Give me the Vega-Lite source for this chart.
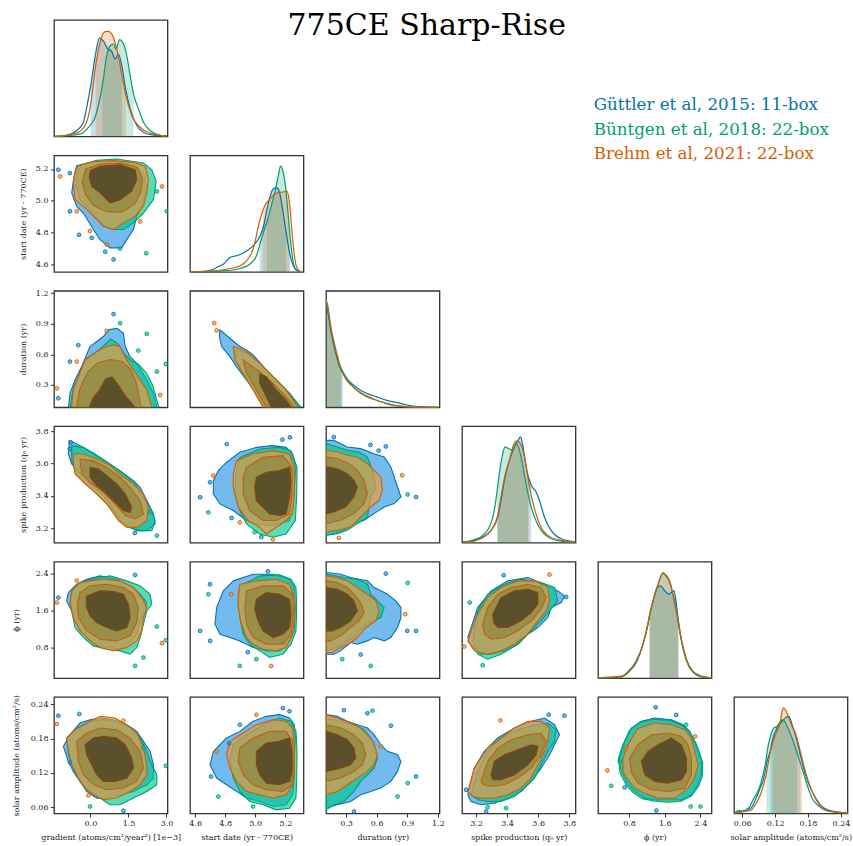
{
"$schema":"https://vega.github.io/schema/vega-lite/v6.json",
"padding":{"left":11,"top":11,"right":2,"bottom":2},
"background":"white",
"config":{
"view":{"stroke":"#333","strokeWidth":1.3},
"axis":{"labelFont":"DejaVu Serif","labelFontSize":8,"labelColor":"#222","titleFont":"DejaVu Serif","titleFontSize":8,"titleFontWeight":"normal","titleColor":"#222","tickColor":"#333","tickSize":3.5,"tickWidth":1,"domain":false,"grid":false,"labelPadding":2.5,"labelFlush":false,"labelOverlap":false}
},
"datasets":{
"leg":[{"s":"G"},{"s":"B"},{"s":"R"}],
"kde":[
{"v":0,"s":"G","x":[-1.41,-0.95,-0.55,-0.285,-0.087,0.006,0.178,0.35,0.509,0.668,0.84,0.972,1.104,1.237,1.369,1.568,1.832,2.097,2.494,3.02],"d":[0.003,0.011,0.049,0.12,0.32,0.43,0.68,0.845,0.82,0.756,0.728,0.665,0.708,0.607,0.43,0.235,0.092,0.034,0.011,0.003]},
{"v":0,"s":"B","x":[-1.41,-0.418,-0.087,0.178,0.469,0.641,0.773,0.906,1.012,1.144,1.276,1.435,1.568,1.7,1.899,2.097,2.362,2.759,3.02],"d":[0,0.02,0.077,0.163,0.436,0.693,0.779,0.794,0.75,0.831,0.808,0.693,0.521,0.364,0.235,0.12,0.049,0.011,0.003]},
{"v":0,"s":"R","x":[-1.41,-0.55,-0.22,-0.021,0.204,0.376,0.575,0.707,0.879,1.038,1.197,1.396,1.634,1.965,2.362,3.02],"d":[0,0.029,0.092,0.235,0.607,0.808,0.9,0.903,0.865,0.75,0.579,0.35,0.178,0.077,0.029,0.003]},
{"v":1,"s":"G","x":[4.57,4.677,4.721,4.754,4.787,4.831,4.886,4.941,4.985,5.029,5.055,5.077,5.099,5.121,5.143,5.161,5.183,5.205,5.227,5.253,5.281,5.304],"d":[0,0.006,0.023,0.046,0.066,0.123,0.143,0.18,0.223,0.303,0.394,0.537,0.651,0.717,0.723,0.68,0.523,0.337,0.166,0.051,0.009,0]},
{"v":1,"s":"B","x":[4.57,4.809,4.897,4.963,5.007,5.04,5.068,5.077,5.095,5.117,5.139,5.156,5.167,5.183,5.2,5.215,5.233,5.248,5.271,5.304],"d":[0,0.011,0.029,0.066,0.137,0.28,0.394,0.43,0.509,0.623,0.737,0.851,0.909,0.866,0.737,0.537,0.28,0.109,0.017,0]},
{"v":1,"s":"R","x":[4.57,4.765,4.831,4.897,4.941,4.985,5.029,5.048,5.062,5.095,5.128,5.156,5.187,5.209,5.227,5.244,5.26,5.275,5.304],"d":[0,0.014,0.029,0.051,0.094,0.194,0.437,0.52,0.566,0.623,0.666,0.683,0.686,0.694,0.594,0.337,0.137,0.037,0]},
{"v":2,"s":"G","x":[0.106,0.12,0.15,0.2,0.25,0.27,0.3,0.35,0.4,0.5,0.6,0.7,0.8,0.9,1.0,1.1,1.2],"d":[0.85,0.82,0.66,0.46,0.32,0.29,0.25,0.21,0.17,0.12,0.09,0.06,0.04,0.02,0.006,0.001,0]},
{"v":2,"s":"B","x":[0.106,0.12,0.15,0.2,0.25,0.255,0.3,0.35,0.4,0.5,0.6,0.7,0.8,0.9,1.0,1.2],"d":[0.9,0.86,0.68,0.48,0.34,0.33,0.26,0.2,0.15,0.09,0.06,0.03,0.012,0.004,0.001,0]},
{"v":2,"s":"R","x":[0.106,0.12,0.15,0.2,0.25,0.3,0.35,0.4,0.5,0.6,0.7,0.8,0.9,1.0,1.2],"d":[0.92,0.88,0.7,0.5,0.33,0.24,0.19,0.15,0.1,0.06,0.035,0.015,0.005,0.001,0]},
{"v":3,"s":"G","x":[3.115,3.189,3.243,3.297,3.34,3.361,3.387,3.415,3.447,3.469,3.486,3.501,3.522,3.555,3.587,3.608,3.64,3.683,3.748,3.84],"d":[0.006,0.02,0.049,0.106,0.221,0.364,0.564,0.708,0.822,0.874,0.908,0.837,0.65,0.493,0.436,0.364,0.221,0.106,0.034,0.006]},
{"v":3,"s":"B","x":[3.115,3.189,3.243,3.286,3.318,3.335,3.35,3.372,3.387,3.408,3.437,3.458,3.469,3.49,3.516,3.535,3.544,3.576,3.619,3.672,3.748,3.84],"d":[0.003,0.026,0.063,0.135,0.278,0.436,0.593,0.765,0.822,0.808,0.794,0.851,0.837,0.736,0.55,0.42,0.364,0.221,0.106,0.043,0.014,0.003]},
{"v":3,"s":"R","x":[3.115,3.189,3.243,3.297,3.34,3.368,3.387,3.415,3.447,3.464,3.49,3.516,3.54,3.544,3.576,3.608,3.662,3.748,3.84],"d":[0.003,0.014,0.043,0.106,0.235,0.45,0.579,0.708,0.857,0.874,0.837,0.708,0.51,0.479,0.292,0.163,0.063,0.02,0.003]},
{"v":4,"s":"G","x":[0.105,0.627,0.778,0.964,1.114,1.226,1.26,1.338,1.435,1.509,1.599,1.688,1.748,1.809,1.86,1.91,1.973,2.085,2.235,2.421,2.645],"d":[0,0.011,0.049,0.134,0.291,0.463,0.534,0.663,0.777,0.791,0.749,0.72,0.734,0.749,0.634,0.469,0.32,0.149,0.049,0.011,0.003]},
{"v":4,"s":"B","x":[0.105,0.627,0.778,0.964,1.114,1.226,1.265,1.338,1.45,1.562,1.599,1.711,1.786,1.86,1.9,1.973,2.085,2.235,2.421,2.645],"d":[0.003,0.017,0.057,0.149,0.291,0.477,0.549,0.663,0.806,0.906,0.891,0.82,0.72,0.591,0.506,0.334,0.163,0.057,0.017,0.003]},
{"v":4,"s":"R","x":[0.105,0.627,0.778,0.964,1.114,1.226,1.255,1.338,1.45,1.562,1.674,1.733,1.809,1.9,1.912,2.01,2.123,2.271,2.421,2.645],"d":[0.003,0.011,0.046,0.149,0.291,0.469,0.534,0.663,0.806,0.897,0.863,0.806,0.663,0.477,0.449,0.263,0.12,0.04,0.011,0.003]},
{"v":5,"s":"G","x":[0.0468,0.0601,0.0751,0.0842,0.0904,0.0995,0.1055,0.1115,0.1145,0.1236,0.1327,0.14,0.1449,0.1509,0.1569,0.1659,0.175,0.1872,0.2022,0.2204,0.252],"d":[0.006,0.02,0.043,0.12,0.191,0.306,0.449,0.543,0.62,0.734,0.791,0.826,0.834,0.763,0.677,0.506,0.334,0.191,0.077,0.026,0.006]},
{"v":5,"s":"B","x":[0.0468,0.0541,0.0601,0.0722,0.0813,0.0873,0.0933,0.0995,0.1043,0.1055,0.1115,0.1176,0.1236,0.1296,0.1345,0.1418,0.1509,0.1599,0.169,0.1781,0.1872,0.1993,0.2175,0.252],"d":[0.006,0.026,0.02,0.049,0.134,0.177,0.249,0.363,0.491,0.534,0.663,0.734,0.749,0.791,0.806,0.749,0.649,0.52,0.391,0.249,0.134,0.063,0.02,0.003]},
{"v":5,"s":"R","x":[0.0468,0.0601,0.0751,0.0842,0.0933,0.1024,0.1115,0.1157,0.1205,0.1296,0.1327,0.1358,0.14,0.1449,0.1521,0.1569,0.1659,0.169,0.175,0.1872,0.2004,0.2175,0.252],"d":[0.003,0.014,0.026,0.077,0.163,0.306,0.534,0.606,0.677,0.791,0.877,0.906,0.877,0.82,0.734,0.691,0.534,0.477,0.363,0.191,0.077,0.02,0.003]}
],
"isl":[
{"p":"10","k":"G1","x":-1.27,"y":5.195},{"p":"10","k":"R1","x":-1.2,"y":5.153},{"p":"10","k":"G1","x":-0.81,"y":5.174},{"p":"10","k":"G1","x":-0.81,"y":4.934},{"p":"10","k":"R1","x":-0.54,"y":4.934},{"p":"10","k":"G1","x":-0.45,"y":4.786},{"p":"10","k":"R1","x":-0.02,"y":4.81},{"p":"10","k":"G1","x":0.05,"y":4.767},{"p":"10","k":"R1","x":0.64,"y":4.725},{"p":"10","k":"G1","x":0.58,"y":4.68},{"p":"10","k":"G1","x":0.91,"y":4.631},{"p":"10","k":"B1","x":1.17,"y":4.7},{"p":"10","k":"R1","x":1.96,"y":4.87},{"p":"10","k":"B1","x":2.62,"y":5.059},{"p":"10","k":"R1","x":2.82,"y":5.09},{"p":"10","k":"B1","x":3.01,"y":4.934},{"p":"10","k":"B1","x":2.2,"y":4.67},
{"p":"20","k":"G1","x":0.91,"y":0.994},{"p":"20","k":"B1","x":1.17,"y":0.906},{"p":"20","k":"R1","x":0.64,"y":0.83},{"p":"20","k":"G1","x":-0.48,"y":0.69},{"p":"20","k":"R1","x":-0.54,"y":0.529},{"p":"20","k":"G1","x":-0.81,"y":0.529},{"p":"20","k":"B1","x":2.22,"y":0.801},{"p":"20","k":"B1","x":2.62,"y":0.431},{"p":"20","k":"B1","x":2.97,"y":0.506},{"p":"20","k":"R1","x":2.75,"y":0.202},{"p":"20","k":"R1","x":-1.33,"y":0.267},{"p":"20","k":"G1","x":-1.27,"y":0.17},{"p":"20","k":"B1","x":1.89,"y":0.637},
{"p":"21","k":"R1","x":4.743,"y":0.834},{"p":"21","k":"R1","x":4.727,"y":0.906},
{"p":"30","k":"G1","x":-0.78,"y":3.731},{"p":"30","k":"G1","x":-0.82,"y":3.69},{"p":"30","k":"B1","x":2.62,"y":3.154},{"p":"30","k":"G1","x":1.75,"y":3.17},{"p":"30","k":"B1","x":2.34,"y":3.3},
{"p":"31","k":"G1","x":4.81,"y":3.72},{"p":"31","k":"G1","x":5.18,"y":3.748},{"p":"31","k":"G1","x":5.23,"y":3.762},{"p":"31","k":"G1","x":4.633,"y":3.391},{"p":"31","k":"R1","x":4.721,"y":3.525},{"p":"31","k":"G1","x":4.699,"y":3.484},{"p":"31","k":"B1","x":4.688,"y":3.298},{"p":"31","k":"G1","x":4.842,"y":3.263},{"p":"31","k":"B1","x":4.996,"y":3.175},{"p":"31","k":"R1","x":4.897,"y":3.236},{"p":"31","k":"R1","x":5.117,"y":3.13},{"p":"31","k":"G1","x":5.04,"y":3.145},
{"p":"32","k":"G1","x":0.181,"y":3.764},{"p":"32","k":"G1","x":0.69,"y":3.706},{"p":"32","k":"R1","x":0.85,"y":3.527},{"p":"32","k":"B1","x":0.904,"y":3.409},{"p":"32","k":"G1","x":0.986,"y":3.393},{"p":"32","k":"R1","x":0.23,"y":3.14},{"p":"32","k":"G1","x":0.54,"y":3.715},{"p":"32","k":"G1","x":0.62,"y":3.68},
{"p":"40","k":"R1","x":-1.33,"y":1.774},{"p":"40","k":"G1","x":-1.27,"y":1.882},{"p":"40","k":"G1","x":1.76,"y":2.372},{"p":"40","k":"B1","x":2.62,"y":1.255},{"p":"40","k":"B1","x":2.09,"y":0.585},{"p":"40","k":"B1","x":1.76,"y":0.405},{"p":"40","k":"R1","x":2.82,"y":0.894},{"p":"40","k":"B1","x":2.97,"y":0.958},{"p":"40","k":"R1","x":-0.54,"y":2.25},
{"p":"41","k":"G1","x":4.699,"y":2.171},{"p":"41","k":"G1","x":4.633,"y":1.162},{"p":"41","k":"G1","x":4.7,"y":0.945},{"p":"41","k":"B1","x":4.688,"y":1.954},{"p":"41","k":"R1","x":4.84,"y":1.954},{"p":"41","k":"B1","x":4.897,"y":0.405},{"p":"41","k":"G1","x":5.083,"y":2.45},{"p":"41","k":"R1","x":5.105,"y":0.4},{"p":"41","k":"B1","x":5.007,"y":0.55},{"p":"41","k":"G1","x":4.95,"y":0.7},
{"p":"42","k":"G1","x":0.69,"y":2.4},{"p":"42","k":"B1","x":0.904,"y":2.2},{"p":"42","k":"R1","x":0.88,"y":1.522},{"p":"42","k":"G1","x":0.9,"y":1.162},{"p":"42","k":"B1","x":0.542,"y":0.405},{"p":"42","k":"G1","x":0.986,"y":1.162},{"p":"42","k":"B1","x":0.263,"y":0.55},{"p":"42","k":"G1","x":0.444,"y":0.65},
{"p":"43","k":"G1","x":3.378,"y":2.364},{"p":"43","k":"R1","x":3.673,"y":2.38},{"p":"43","k":"G1","x":3.78,"y":1.896},{"p":"43","k":"R1","x":3.125,"y":0.823},{"p":"43","k":"B1","x":3.243,"y":0.419},{"p":"43","k":"B1","x":3.16,"y":1.774},
{"p":"50","k":"G1","x":-1.27,"y":0.2203},{"p":"50","k":"R1","x":-1.33,"y":0.2057},{"p":"50","k":"G1","x":-0.44,"y":0.2232},{"p":"50","k":"R1","x":1.3,"y":0.2115},{"p":"50","k":"G1","x":-0.81,"y":0.1384},{"p":"50","k":"B1","x":2.09,"y":0.1636},{"p":"50","k":"B1","x":2.97,"y":0.1326},{"p":"50","k":"B1","x":-0.02,"y":0.0613},{"p":"50","k":"G1","x":1.3,"y":0.0537},{"p":"50","k":"R1","x":-0.08,"y":0.0806},
{"p":"51","k":"G1","x":4.826,"y":0.1723},{"p":"51","k":"G1","x":4.706,"y":0.1138},{"p":"51","k":"G1","x":4.897,"y":0.2045},{"p":"51","k":"R1","x":5.007,"y":0.222},{"p":"51","k":"G1","x":5.183,"y":0.2337},{"p":"51","k":"G1","x":5.227,"y":0.228},{"p":"51","k":"B1","x":4.754,"y":0.0787},{"p":"51","k":"B1","x":4.985,"y":0.0612},{"p":"51","k":"R1","x":4.743,"y":0.1577},
{"p":"52","k":"G1","x":0.28,"y":0.23},{"p":"52","k":"G1","x":0.51,"y":0.2245},{"p":"52","k":"B1","x":0.559,"y":0.2291},{"p":"52","k":"G1","x":0.74,"y":0.2028},{"p":"52","k":"R1","x":0.64,"y":0.1665},{"p":"52","k":"B1","x":0.904,"y":0.1022},{"p":"52","k":"G1","x":0.986,"y":0.1139},{"p":"52","k":"B1","x":0.805,"y":0.0788},{"p":"52","k":"G1","x":0.378,"y":0.0525},
{"p":"53","k":"G1","x":3.668,"y":0.2221},{"p":"53","k":"G1","x":3.769,"y":0.2203},{"p":"53","k":"R1","x":3.357,"y":0.2121},{"p":"53","k":"G1","x":3.136,"y":0.0906},{"p":"53","k":"B1","x":3.394,"y":0.0584},{"p":"53","k":"B1","x":3.275,"y":0.06},{"p":"53","k":"G1","x":3.265,"y":0.0525},
{"p":"54","k":"G1","x":1.397,"y":0.2349},{"p":"54","k":"G1","x":1.858,"y":0.2215},{"p":"54","k":"B1","x":2.08,"y":0.2045},{"p":"54","k":"R1","x":2.28,"y":0.184},{"p":"54","k":"R1","x":0.314,"y":0.1244},{"p":"54","k":"B1","x":0.59,"y":0.1402},{"p":"54","k":"B1","x":0.403,"y":0.0975},{"p":"54","k":"G1","x":0.702,"y":0.0946},{"p":"54","k":"B1","x":2.4,"y":0.0612},{"p":"54","k":"G1","x":1.411,"y":0.0542},{"p":"54","k":"B1","x":2.18,"y":0.0612},{"p":"54","k":"R1","x":0.74,"y":0.1637}
],
"con":[
{"p":"10","k":"G1","x":[-0.544,-0.149,0.378,1.037,1.696,2.091,2.223,2.091,1.828,1.696,1.432,1.235,0.773,0.378,0.115,-0.281,-0.544,-0.742,-0.65],"y":[5.22,5.237,5.247,5.247,5.226,5.174,5.091,4.986,4.903,4.819,4.756,4.704,4.704,4.756,4.819,4.923,4.965,5.049,5.153]},
{"p":"10","k":"B1","x":[-0.346,0.246,1.037,1.696,2.091,2.42,2.592,2.486,2.091,1.696,1.3,0.905,0.51,0.181,-0.149,-0.412,-0.57,-0.544],"y":[5.226,5.254,5.262,5.247,5.237,5.195,5.122,5.007,4.923,4.861,4.819,4.819,4.84,4.903,4.965,5.007,5.091,5.174]},
{"p":"10","k":"R1","x":[-0.478,0.115,0.905,1.696,2.157,2.289,2.223,2.091,1.762,1.3,0.905,0.51,0.115,-0.281,-0.61,-0.676,-0.61],"y":[5.22,5.247,5.252,5.241,5.216,5.132,5.049,4.965,4.903,4.861,4.819,4.84,4.903,4.965,5.007,5.112,5.185]},
{"p":"10","k":"A2","x":[-0.2,0.4,1.2,1.85,2.05,1.98,1.75,1.25,0.65,0.12,-0.2,-0.33],"y":[5.2,5.23,5.235,5.21,5.14,5.05,4.98,4.93,4.93,4.97,5.04,5.12]},
{"p":"10","k":"A3","x":[0.0,0.38,1.17,1.76,1.83,1.62,1.17,0.77,0.38,0.05,-0.05],"y":[5.19,5.216,5.226,5.195,5.132,5.06,5.007,4.986,5.05,5.09,5.15]},
{"p":"20","k":"G1","x":[-0.87,-0.81,-0.61,-0.35,-0.02,0.25,0.51,0.71,1.04,1.3,1.37,1.56,1.83,2.02,2.22,2.49,2.62],"y":[0.082,0.218,0.349,0.48,0.677,0.726,0.775,0.84,0.856,0.807,0.677,0.578,0.513,0.431,0.349,0.218,0.082]},
{"p":"20","k":"B1","x":[-0.8,-0.7,-0.45,-0.15,0.2,0.5,0.8,1.1,1.35,1.6,1.9,2.2,2.45,2.7],"y":[0.082,0.25,0.4,0.56,0.62,0.68,0.75,0.7,0.6,0.54,0.5,0.42,0.3,0.082]},
{"p":"20","k":"R1","x":[-0.75,-0.68,-0.48,-0.22,0.25,0.64,0.9,1.17,1.43,1.7,1.96,2.22,2.42],"y":[0.082,0.25,0.382,0.546,0.627,0.677,0.693,0.677,0.546,0.447,0.349,0.25,0.082]},
{"p":"20","k":"A2","x":[-0.55,-0.42,-0.1,0.3,0.8,1.25,1.6,1.8,2.0],"y":[0.082,0.26,0.43,0.52,0.55,0.53,0.45,0.33,0.082]},
{"p":"20","k":"A3","x":[-0.05,0.1,0.35,0.6,0.85,1.1,1.35,1.6,1.75],"y":[0.082,0.17,0.25,0.36,0.38,0.3,0.2,0.13,0.082]},
{"p":"21","k":"G1","x":[4.765,4.831,4.897,4.941,4.985,5.073,5.161,5.227,5.292,5.051,5.007,4.941,4.875,4.831,4.776,4.761],"y":[0.84,0.758,0.677,0.644,0.595,0.447,0.317,0.218,0.082,0.082,0.218,0.349,0.48,0.578,0.677,0.775]},
{"p":"21","k":"B1","x":[4.864,4.952,5.04,5.139,5.227,5.303,5.062,4.996,4.93,4.875],"y":[0.644,0.611,0.497,0.349,0.218,0.082,0.082,0.235,0.382,0.529]},
{"p":"21","k":"R1","x":[4.853,4.941,5.029,5.117,5.204,5.281,5.051,4.985,4.919,4.864],"y":[0.677,0.627,0.513,0.382,0.251,0.082,0.082,0.251,0.415,0.546]},
{"p":"21","k":"A2","x":[4.919,5.029,5.117,5.204,5.259,5.073,5.007,4.941],"y":[0.546,0.431,0.317,0.186,0.082,0.082,0.251,0.415]},
{"p":"21","k":"A3","x":[5.029,5.073,5.139,5.204,5.237,5.106,5.062,5.029],"y":[0.408,0.382,0.251,0.153,0.082,0.082,0.218,0.317]},
{"p":"30","k":"G1","x":[-0.835,-0.543,-0.281,0.113,0.643,1.169,1.694,1.959,2.224,2.485,2.552,2.224,1.829,1.434,1.169,0.841,0.509,-0.017,-0.412,-0.741,-0.874],"y":[3.742,3.721,3.7,3.659,3.607,3.556,3.494,3.453,3.371,3.288,3.226,3.185,3.185,3.216,3.247,3.33,3.401,3.474,3.536,3.597,3.659]},
{"p":"30","k":"B1","x":[-0.741,-0.281,0.181,0.773,1.299,1.762,2.09,2.354,2.552,2.422,1.959,1.497,1.169,0.773,0.378,-0.084,-0.543,-0.741],"y":[3.711,3.7,3.659,3.597,3.536,3.474,3.391,3.33,3.247,3.185,3.185,3.205,3.247,3.33,3.391,3.463,3.536,3.618]},
{"p":"30","k":"R1","x":[-0.676,-0.281,0.248,0.773,1.236,1.694,2.09,2.287,2.224,1.829,1.434,1.101,0.643,0.248,-0.215,-0.61,-0.676],"y":[3.659,3.659,3.628,3.587,3.525,3.474,3.412,3.33,3.247,3.205,3.205,3.247,3.35,3.412,3.474,3.536,3.597]},
{"p":"30","k":"A2","x":[-0.412,0.113,0.643,1.169,1.564,1.959,2.09,1.762,1.366,0.971,0.509,-0.017,-0.346],"y":[3.628,3.618,3.576,3.515,3.453,3.371,3.288,3.257,3.278,3.35,3.422,3.484,3.536]},
{"p":"30","k":"A3","x":[-0.017,0.311,0.643,1.038,1.366,1.631,1.564,1.299,0.904,0.576,0.248,-0.017],"y":[3.576,3.566,3.525,3.474,3.412,3.33,3.298,3.309,3.371,3.422,3.463,3.515]},
{"p":"31","k":"G1","x":[4.809,4.897,5.007,5.117,5.204,5.248,5.27,5.259,5.248,5.227,5.117,5.007,4.941,4.853,4.765,4.721,4.721,4.754],"y":[3.608,3.67,3.7,3.711,3.7,3.659,3.577,3.453,3.329,3.247,3.216,3.226,3.247,3.309,3.35,3.412,3.494,3.556]},
{"p":"31","k":"B1","x":[4.897,5.029,5.161,5.237,5.277,5.275,5.266,5.204,5.117,5.029,4.941,4.897,4.864,4.87],"y":[3.638,3.69,3.7,3.68,3.577,3.412,3.247,3.164,3.144,3.164,3.226,3.309,3.412,3.535]},
{"p":"31","k":"R1","x":[4.875,4.985,5.117,5.227,5.259,5.259,5.248,5.204,5.139,5.073,5.029,4.952,4.886,4.853,4.853],"y":[3.618,3.659,3.68,3.659,3.577,3.412,3.288,3.247,3.206,3.164,3.206,3.247,3.329,3.453,3.535]},
{"p":"31","k":"A2","x":[4.941,5.051,5.183,5.244,5.244,5.227,5.139,5.051,4.963,4.919,4.919],"y":[3.577,3.638,3.649,3.577,3.412,3.288,3.247,3.247,3.309,3.412,3.515]},
{"p":"31","k":"A3","x":[5.007,5.073,5.161,5.227,5.237,5.227,5.204,5.161,5.095,5.051,5.007,4.996],"y":[3.515,3.546,3.556,3.577,3.494,3.391,3.288,3.278,3.288,3.329,3.37,3.453]},
{"p":"32","k":"G1","x":[0.105,0.181,0.313,0.444,0.575,0.674,0.739,0.805,0.838,0.772,0.674,0.575,0.477,0.378,0.28,0.181,0.105],"y":[3.743,3.743,3.702,3.692,3.661,3.64,3.579,3.455,3.393,3.352,3.331,3.29,3.249,3.228,3.187,3.166,3.156]},
{"p":"32","k":"B1","x":[0.105,0.214,0.313,0.428,0.51,0.559,0.592,0.542,0.51,0.411,0.313,0.214,0.105],"y":[3.723,3.702,3.682,3.671,3.64,3.558,3.455,3.393,3.269,3.228,3.187,3.166,3.156]},
{"p":"32","k":"R1","x":[0.105,0.214,0.313,0.411,0.51,0.575,0.641,0.657,0.624,0.542,0.444,0.345,0.214,0.105],"y":[3.682,3.671,3.651,3.64,3.599,3.558,3.517,3.434,3.372,3.331,3.269,3.207,3.187,3.177]},
{"p":"32","k":"A2","x":[0.105,0.214,0.329,0.411,0.477,0.51,0.477,0.378,0.247,0.105],"y":[3.64,3.63,3.599,3.558,3.496,3.414,3.352,3.29,3.249,3.228]},
{"p":"32","k":"A3","x":[0.105,0.214,0.313,0.378,0.411,0.378,0.296,0.181,0.105],"y":[3.579,3.568,3.537,3.496,3.455,3.393,3.331,3.3,3.29]},
{"p":"40","k":"G1","x":[-0.873,-0.544,-0.149,0.378,1.037,1.696,1.96,2.223,2.091,1.96,1.828,1.564,1.169,0.642,0.246,-0.149,-0.478,-0.742,-0.939],"y":[1.99,2.171,2.279,2.351,2.279,2.099,1.954,1.774,1.558,1.342,1.09,0.909,0.765,0.801,0.837,1.017,1.27,1.594,1.81]},
{"p":"40","k":"B1","x":[-0.676,-0.149,0.378,0.773,1.432,1.96,2.354,2.42,2.223,2.091,1.96,1.828,1.564,1.169,0.642,0.115,-0.281,-0.61,-0.742,-0.781],"y":[2.099,2.257,2.315,2.351,2.243,2.135,1.954,1.738,1.594,1.306,1.017,0.801,0.657,0.729,0.765,0.837,1.017,1.234,1.594,1.882]},
{"p":"40","k":"R1","x":[-0.742,-0.412,-0.017,0.51,1.169,1.696,2.025,2.223,2.091,2.025,1.828,1.432,0.905,0.378,-0.017,-0.412,-0.676,-0.808],"y":[2.027,2.207,2.243,2.279,2.243,2.099,1.882,1.666,1.45,1.162,0.945,0.801,0.729,0.801,0.945,1.162,1.45,1.738]},
{"p":"40","k":"A2","x":[-0.412,-0.017,0.642,1.3,1.696,1.893,1.828,1.564,1.037,0.378,-0.149,-0.478,-0.518],"y":[1.99,2.135,2.171,2.099,1.954,1.666,1.342,1.054,0.945,0.981,1.162,1.45,1.738]},
{"p":"40","k":"A3","x":[-0.149,0.378,0.905,1.3,1.498,1.564,1.432,1.037,0.642,0.246,-0.017,-0.175],"y":[1.918,2.027,2.012,1.954,1.738,1.45,1.234,1.162,1.234,1.342,1.486,1.702]},
{"p":"41","k":"G1","x":[4.853,4.985,5.117,5.227,5.259,5.266,5.259,5.227,5.161,5.073,4.985,4.897,4.831,4.765,4.732,4.743,4.787],"y":[2.243,2.387,2.387,2.279,2.099,1.666,1.162,0.945,0.729,0.729,0.801,0.945,1.017,1.09,1.306,1.666,2.027]},
{"p":"41","k":"B1","x":[4.919,5.029,5.161,5.237,5.27,5.275,5.27,5.237,5.183,5.095,5.029,4.963,4.919,4.897,4.886,4.897],"y":[2.171,2.351,2.373,2.279,2.099,1.666,1.162,0.873,0.657,0.585,0.729,0.873,1.09,1.45,1.81,2.099]},
{"p":"41","k":"R1","x":[4.897,5.007,5.139,5.227,5.259,5.259,5.248,5.204,5.139,5.051,4.985,4.941,4.908,4.886,4.886],"y":[2.171,2.243,2.279,2.171,1.882,1.45,1.09,0.801,0.729,0.765,0.873,1.017,1.306,1.666,1.954]},
{"p":"41","k":"A2","x":[4.941,5.051,5.183,5.248,5.253,5.237,5.183,5.073,4.985,4.941,4.93],"y":[2.027,2.135,2.135,1.954,1.522,1.09,0.873,0.873,1.017,1.306,1.666]},
{"p":"41","k":"A3","x":[5.007,5.073,5.161,5.227,5.237,5.227,5.183,5.117,5.051,5.018,4.996],"y":[1.846,1.99,1.954,1.846,1.522,1.234,1.09,1.017,1.162,1.378,1.63]},
{"p":"42","k":"G1","x":[0.106,0.247,0.345,0.428,0.51,0.575,0.641,0.706,0.788,0.838,0.838,0.805,0.739,0.674,0.575,0.51,0.411,0.345,0.247,0.181,0.106],"y":[2.423,2.387,2.315,2.279,2.243,2.099,2.027,1.954,1.81,1.666,1.45,1.234,1.017,0.945,1.017,0.945,0.873,0.909,0.729,0.657,0.657]},
{"p":"42","k":"B1","x":[0.106,0.28,0.411,0.51,0.542,0.608,0.674,0.641,0.575,0.51,0.444,0.378,0.313,0.214,0.106],"y":[2.387,2.315,2.279,2.171,1.954,1.81,1.666,1.45,1.378,1.306,1.198,1.017,0.945,0.801,0.729]},
{"p":"42","k":"R1","x":[0.106,0.214,0.313,0.411,0.51,0.592,0.624,0.592,0.542,0.477,0.411,0.345,0.247,0.165,0.106],"y":[2.351,2.315,2.243,2.099,1.954,1.81,1.594,1.378,1.306,1.198,1.017,0.909,0.801,0.693,0.693]},
{"p":"42","k":"A2","x":[0.106,0.214,0.313,0.378,0.444,0.477,0.428,0.345,0.247,0.148,0.106],"y":[2.243,2.207,2.099,1.954,1.774,1.558,1.378,1.234,1.054,0.945,0.945]},
{"p":"42","k":"A3","x":[0.106,0.214,0.313,0.378,0.411,0.345,0.247,0.165,0.106],"y":[2.099,2.063,1.954,1.81,1.594,1.378,1.234,1.162,1.162]},
{"p":"43","k":"G1","x":[3.147,3.211,3.297,3.404,3.533,3.641,3.726,3.769,3.748,3.683,3.662,3.598,3.533,3.469,3.383,3.297,3.232,3.179],"y":[1.017,1.666,2.027,2.243,2.315,2.171,2.027,1.918,1.774,1.666,1.45,1.234,1.09,0.873,0.729,0.657,0.657,0.801]},
{"p":"43","k":"B1","x":[3.179,3.211,3.275,3.383,3.49,3.619,3.705,3.726,3.673,3.619,3.555,3.469,3.361,3.275,3.211],"y":[0.945,1.594,1.954,2.171,2.279,2.207,2.099,1.81,1.594,1.378,1.162,0.873,0.657,0.549,0.657]},
{"p":"43","k":"R1","x":[3.147,3.2,3.275,3.361,3.469,3.576,3.662,3.673,3.651,3.598,3.533,3.447,3.361,3.275,3.189],"y":[0.945,1.45,1.882,2.099,2.243,2.243,2.099,1.81,1.594,1.378,1.09,0.873,0.729,0.657,0.729]},
{"p":"43","k":"A2","x":[3.243,3.275,3.34,3.426,3.533,3.619,3.651,3.619,3.555,3.469,3.383,3.297,3.254],"y":[1.306,1.666,1.954,2.099,2.171,2.099,1.882,1.63,1.378,1.162,1.017,0.981,1.09]},
{"p":"43","k":"A3","x":[3.308,3.361,3.447,3.533,3.598,3.598,3.555,3.49,3.404,3.34,3.314],"y":[1.522,1.882,2.027,2.063,1.99,1.738,1.558,1.378,1.234,1.234,1.342]},
{"p":"50","k":"G1","x":[-1.071,-0.808,-0.412,-0.017,0.378,0.905,1.432,1.828,2.091,2.354,2.486,2.486,2.223,1.696,1.169,0.642,0.246,-0.149,-0.412,-0.676,-0.873],"y":[0.1665,0.187,0.2074,0.2133,0.2162,0.2133,0.2045,0.1928,0.1753,0.1577,0.1344,0.1111,0.0993,0.0877,0.0818,0.076,0.076,0.0877,0.1052,0.1227,0.1402]},
{"p":"50","k":"B1","x":[-0.939,-0.544,-0.017,0.51,1.037,1.564,1.96,2.223,2.42,2.618,2.618,2.223,1.696,1.169,0.773,0.378,-0.017,-0.412,-0.676,-0.873],"y":[0.1811,0.1987,0.2104,0.2133,0.2104,0.1987,0.1811,0.1577,0.1344,0.1169,0.0993,0.0877,0.076,0.0643,0.0643,0.076,0.0877,0.1052,0.1286,0.1519]},
{"p":"50","k":"R1","x":[-0.939,-0.61,-0.149,0.378,0.97,1.432,1.828,2.091,2.223,2.223,1.96,1.564,1.037,0.51,0.115,-0.215,-0.478,-0.742,-0.873],"y":[0.1811,0.1957,0.2074,0.2191,0.2162,0.2045,0.1899,0.1636,0.1344,0.1169,0.0993,0.0877,0.076,0.0731,0.0818,0.0935,0.1111,0.1344,0.1577]},
{"p":"50","k":"A2","x":[-0.544,-0.149,0.378,1.037,1.564,1.96,2.091,1.828,1.3,0.642,0.115,-0.281,-0.478],"y":[0.1753,0.1899,0.1987,0.1957,0.1811,0.1577,0.1286,0.1052,0.0935,0.0906,0.0993,0.1169,0.1402]},
{"p":"50","k":"A3","x":[-0.215,0.115,0.51,1.037,1.366,1.63,1.696,1.432,0.97,0.51,0.246,0.049,-0.149],"y":[0.1695,0.1811,0.1841,0.1811,0.1695,0.1461,0.1286,0.1111,0.1052,0.1052,0.1169,0.1344,0.1519]},
{"p":"51","k":"G1","x":[4.809,4.897,4.985,5.073,5.161,5.227,5.259,5.266,5.259,5.259,5.248,5.204,5.117,5.029,4.941,4.875,4.809,4.743,4.699,4.721],"y":[0.1811,0.1928,0.2104,0.2191,0.2221,0.2162,0.2045,0.1811,0.1461,0.1111,0.0818,0.0643,0.0612,0.07,0.076,0.0877,0.0993,0.1111,0.1344,0.1577]},
{"p":"51","k":"B1","x":[4.853,4.941,5.051,5.161,5.237,5.27,5.277,5.275,5.27,5.227,5.139,5.051,4.963,4.897,4.853,4.831],"y":[0.1695,0.187,0.2045,0.2162,0.2104,0.1928,0.1577,0.1111,0.076,0.0583,0.0554,0.0643,0.07,0.0877,0.1111,0.1402]},
{"p":"51","k":"R1","x":[4.831,4.919,5.007,5.117,5.204,5.248,5.259,5.259,5.248,5.204,5.117,5.029,4.941,4.875,4.831,4.809],"y":[0.1753,0.1899,0.2045,0.2133,0.2104,0.1987,0.1695,0.1286,0.0993,0.0818,0.076,0.0818,0.0877,0.1052,0.1286,0.1519]},
{"p":"51","k":"A2","x":[4.897,4.985,5.095,5.204,5.248,5.253,5.244,5.183,5.073,4.985,4.919,4.886],"y":[0.1636,0.1811,0.1928,0.1928,0.1753,0.1344,0.0993,0.0877,0.0906,0.0993,0.1169,0.1402]},
{"p":"51","k":"A3","x":[5.007,5.073,5.161,5.227,5.244,5.244,5.227,5.161,5.073,5.029,5.007],"y":[0.1577,0.1724,0.1753,0.1811,0.1577,0.1227,0.1052,0.0993,0.1022,0.1169,0.1344]},
{"p":"52","k":"G1","x":[0.106,0.214,0.313,0.411,0.51,0.575,0.641,0.706,0.805,0.838,0.805,0.739,0.641,0.542,0.444,0.345,0.214,0.106],"y":[0.2221,0.2191,0.2104,0.2045,0.1987,0.187,0.1694,0.1578,0.1519,0.1402,0.1227,0.1052,0.0935,0.0876,0.0818,0.0701,0.0643,0.0584]},
{"p":"52","k":"B1","x":[0.106,0.247,0.378,0.477,0.542,0.575,0.608,0.575,0.51,0.444,0.378,0.28,0.181,0.106],"y":[0.2162,0.2104,0.2045,0.1958,0.1812,0.1636,0.1461,0.1285,0.1168,0.1052,0.0876,0.0701,0.0643,0.0555]},
{"p":"52","k":"R1","x":[0.106,0.214,0.345,0.444,0.51,0.575,0.608,0.575,0.51,0.411,0.313,0.214,0.106],"y":[0.2221,0.2162,0.2075,0.1987,0.187,0.1724,0.1519,0.1344,0.1227,0.111,0.0993,0.0876,0.0818]},
{"p":"52","k":"A2","x":[0.106,0.247,0.378,0.461,0.493,0.461,0.378,0.247,0.106],"y":[0.2045,0.1987,0.187,0.1724,0.1519,0.1344,0.1227,0.111,0.1052]},
{"p":"52","k":"A3","x":[0.106,0.214,0.313,0.378,0.395,0.345,0.247,0.106],"y":[0.1929,0.187,0.1782,0.1636,0.1461,0.1344,0.1285,0.1227]},
{"p":"53","k":"G1","x":[3.147,3.189,3.254,3.34,3.447,3.555,3.641,3.705,3.737,3.705,3.673,3.619,3.555,3.49,3.404,3.318,3.232,3.168],"y":[0.0818,0.1285,0.1578,0.1812,0.1987,0.2104,0.2162,0.2045,0.187,0.1694,0.1519,0.1285,0.1052,0.0876,0.0759,0.0672,0.0643,0.0701]},
{"p":"53","k":"B1","x":[3.168,3.211,3.275,3.361,3.469,3.576,3.662,3.716,3.705,3.662,3.619,3.576,3.511,3.447,3.361,3.275,3.211],"y":[0.0818,0.1227,0.1578,0.1812,0.1958,0.2045,0.2075,0.1958,0.1753,0.1578,0.1344,0.111,0.0935,0.0788,0.0701,0.0701,0.073]},
{"p":"53","k":"R1","x":[3.147,3.189,3.275,3.361,3.447,3.533,3.619,3.673,3.662,3.641,3.598,3.555,3.49,3.404,3.318,3.232,3.179],"y":[0.0876,0.1285,0.1636,0.1812,0.1987,0.2104,0.2104,0.1987,0.1753,0.1578,0.1344,0.111,0.0935,0.0818,0.0759,0.0759,0.0788]},
{"p":"53","k":"A2","x":[3.232,3.275,3.34,3.426,3.533,3.619,3.651,3.619,3.555,3.469,3.383,3.297,3.25],"y":[0.1052,0.1402,0.1636,0.1782,0.187,0.19,0.1753,0.1519,0.1285,0.111,0.0993,0.0964,0.0993]},
{"p":"53","k":"A3","x":[3.297,3.318,3.383,3.469,3.555,3.598,3.587,3.533,3.447,3.361,3.308],"y":[0.1168,0.1402,0.1519,0.1607,0.1694,0.1665,0.1519,0.1344,0.1168,0.1081,0.1081]},
{"p":"54","k":"G1","x":[0.702,0.852,1.076,1.375,1.749,2.01,2.159,2.271,2.346,2.421,2.421,2.346,2.197,1.973,1.674,1.375,1.151,0.926,0.777,0.627,0.59],"y":[0.1753,0.1987,0.2104,0.2162,0.2133,0.2045,0.1928,0.1753,0.1577,0.1402,0.1168,0.0992,0.0817,0.0729,0.0729,0.0729,0.0759,0.0875,0.0992,0.1226,0.146]},
{"p":"54","k":"B1","x":[0.665,0.814,1.05,1.35,1.72,2.0,2.17,2.3,2.38,2.45,2.44,2.36,2.2,1.95,1.65,1.35,1.1,0.9,0.74,0.6,0.56],"y":[0.17,0.195,0.209,0.214,0.212,0.203,0.19,0.172,0.155,0.138,0.115,0.097,0.08,0.07,0.069,0.071,0.075,0.085,0.098,0.12,0.145]},
{"p":"54","k":"R1","x":[0.665,0.777,1.001,1.375,1.749,2.047,2.197,2.271,2.346,2.271,2.122,1.823,1.45,1.151,0.926,0.777,0.665],"y":[0.146,0.1694,0.198,0.2074,0.2045,0.1957,0.1811,0.1577,0.1343,0.1109,0.0934,0.0759,0.0759,0.0846,0.0934,0.108,0.1226]},
{"p":"54","k":"A2","x":[0.814,1.001,1.3,1.674,1.973,2.122,2.197,2.197,2.047,1.674,1.3,1.001,0.852],"y":[0.146,0.1694,0.187,0.1899,0.1841,0.1694,0.146,0.1168,0.0934,0.0875,0.0905,0.1022,0.1197]},
{"p":"54","k":"A3","x":[1.076,1.226,1.45,1.749,1.973,2.085,2.085,1.973,1.674,1.375,1.151],"y":[0.1402,0.1577,0.1694,0.1811,0.1694,0.146,0.1226,0.108,0.1022,0.1051,0.1168]}
]
},
"columns":6,
"spacing":{"row":18.4,"column":22},
"bounds":"flush",
"concat":[
{"width":113.5,"height":116.5,"data":{"name":"kde"},"transform":[{"filter":"datum.v==0"},{"flatten":["x","d"]}],
"encoding":{"x":{"field":"x","type":"quantitative","scale":{"domain":[-1.44,3.04],"nice":false,"zero":false},"axis":null},"y":{"field":"d","type":"quantitative","scale":{"domain":[0,1],"nice":false},"axis":null,"stack":null}},
"layer":[
{"transform":[{"filter":"(datum.s=='G'&&datum.x>=0.006&&datum.x<=1.237)||(datum.s=='B'&&datum.x>=0.469&&datum.x<=1.7)||(datum.s=='R'&&datum.x>=0.204&&datum.x<=1.396)"}],"mark":{"type":"area","interpolate":"monotone"},"encoding":{"fill":{"field":"s","type":"nominal","scale":{"domain":["G","B","R","G1","B1","R1","A2","A3"],"range":["rgba(1,115,178,0.22)","rgba(2,158,115,0.22)","rgba(213,94,0,0.22)","rgba(40,150,230,0.65)","rgba(0,200,140,0.65)","rgba(245,150,60,0.65)","rgba(120,110,30,0.4)","rgba(40,30,20,0.55)"]},"legend":null}}},
{"mark":{"type":"line","interpolate":"monotone","strokeWidth":1.2},"encoding":{"color":{"field":"s","type":"nominal","scale":{"domain":["G","B","R","G1","B1","R1","A2","A3"],"range":["#0173b2","#029e73","#d55e00","#0173b2","#029e73","#d55e00","#c4600f","#8a4510"]},"legend":null}}}
]},
{"width":113.5,"height":116.5,"view":{"stroke":null},"data":{"name":"leg"},
"title":{"text":"775CE Sharp-Rise","font":"DejaVu Serif","fontSize":30,"fontWeight":"normal","color":"#000","anchor":"middle","frame":"group","dx":180,"baseline":"alphabetic","offset":-45},
"mark":{"type":"point","size":0},
"encoding":{"shape":{"field":"s","type":"nominal","scale":{"domain":["G","B","R"]},
"legend":{"orient":"none","legendX":523,"legendY":77,"values":["G","B","R"],"title":null,"labelExpr":"datum.value=='G'?'Güttler et al, 2015: 11-box':datum.value=='B'?'Büntgen et al, 2018: 22-box':'Brehm et al, 2021: 22-box'","labelFont":"DejaVu Serif","labelFontSize":16.7,"labelLimit":600,"labelColor":{"expr":"datum.value=='G'?'#0173b2':datum.value=='B'?'#029e73':'#d55e00'"},"symbolSize":0,"symbolOpacity":0,"symbolStrokeWidth":0,"labelOffset":0,"rowPadding":6.3}}}},
{"width":113.5,"height":116.5,"view":{"stroke":null},"data":{"values":[]},"mark":"point"},
{"width":113.5,"height":116.5,"view":{"stroke":null},"data":{"values":[]},"mark":"point"},
{"width":113.5,"height":116.5,"view":{"stroke":null},"data":{"values":[]},"mark":"point"},
{"width":113.5,"height":116.5,"view":{"stroke":null},"data":{"values":[]},"mark":"point"},
{"width":113.5,"height":116.5,"encoding":{"x":{"field":"x","type":"quantitative","scale":{"domain":[-1.44,3.04],"nice":false,"zero":false},"axis":null},"y":{"field":"y","type":"quantitative","scale":{"domain":[4.553,5.285],"nice":false,"zero":false},"axis":{"values":[4.6,4.8,5.0,5.2],"format":".1f","title":"start date (yr - 770CE)","titleX":-31,"titleBaseline":"middle"}}},
"layer":[
{"data":{"name":"con"},"transform":[{"filter":"datum.p=='10'"},{"flatten":["x","y"]}],"mark":{"type":"line","interpolate":"linear-closed","strokeWidth":1.1,"clip":true},"encoding":{"order":{"value":null},"fill":{"field":"k","type":"nominal","scale":{"domain":["G","B","R","G1","B1","R1","A2","A3"],"range":["rgba(1,115,178,0.22)","rgba(2,158,115,0.22)","rgba(213,94,0,0.22)","rgba(40,150,230,0.65)","rgba(0,200,140,0.65)","rgba(245,150,60,0.65)","rgba(120,110,30,0.4)","rgba(40,30,20,0.55)"]},"legend":null},"color":{"field":"k","type":"nominal","scale":{"domain":["G","B","R","G1","B1","R1","A2","A3"],"range":["#0173b2","#029e73","#d55e00","#0173b2","#029e73","#d55e00","#c4600f","#8a4510"]},"legend":null}}},
{"data":{"name":"isl"},"transform":[{"filter":"datum.p=='10'"}],"mark":{"type":"point","shape":"circle","filled":true,"size":14,"strokeWidth":0.9,"opacity":1,"clip":true},"encoding":{"fill":{"field":"k","type":"nominal","scale":{"domain":["G","B","R","G1","B1","R1","A2","A3"],"range":["rgba(1,115,178,0.22)","rgba(2,158,115,0.22)","rgba(213,94,0,0.22)","rgba(40,150,230,0.65)","rgba(0,200,140,0.65)","rgba(245,150,60,0.65)","rgba(120,110,30,0.4)","rgba(40,30,20,0.55)"]},"legend":null},"stroke":{"field":"k","type":"nominal","scale":{"domain":["G1","B1","R1"],"range":["#0173b2","#029e73","#d55e00"]},"legend":null}}}
]},
{"width":113.5,"height":116.5,"data":{"name":"kde"},"transform":[{"filter":"datum.v==1"},{"flatten":["x","d"]}],
"encoding":{"x":{"field":"x","type":"quantitative","scale":{"domain":[4.566,5.32],"nice":false,"zero":false},"axis":null},"y":{"field":"d","type":"quantitative","scale":{"domain":[0,1],"nice":false},"axis":null,"stack":null}},
"layer":[
{"transform":[{"filter":"(datum.s=='G'&&datum.x>=5.029&&datum.x<=5.205)||(datum.s=='B'&&datum.x>=5.077&&datum.x<=5.233)||(datum.s=='R'&&datum.x>=5.048&&datum.x<=5.227)"}],"mark":{"type":"area","interpolate":"monotone"},"encoding":{"fill":{"field":"s","type":"nominal","scale":{"domain":["G","B","R","G1","B1","R1","A2","A3"],"range":["rgba(1,115,178,0.22)","rgba(2,158,115,0.22)","rgba(213,94,0,0.22)","rgba(40,150,230,0.65)","rgba(0,200,140,0.65)","rgba(245,150,60,0.65)","rgba(120,110,30,0.4)","rgba(40,30,20,0.55)"]},"legend":null}}},
{"mark":{"type":"line","interpolate":"monotone","strokeWidth":1.2},"encoding":{"color":{"field":"s","type":"nominal","scale":{"domain":["G","B","R","G1","B1","R1","A2","A3"],"range":["#0173b2","#029e73","#d55e00","#0173b2","#029e73","#d55e00","#c4600f","#8a4510"]},"legend":null}}}
]},
{"width":113.5,"height":116.5,"view":{"stroke":null},"data":{"values":[]},"mark":"point"},
{"width":113.5,"height":116.5,"view":{"stroke":null},"data":{"values":[]},"mark":"point"},
{"width":113.5,"height":116.5,"view":{"stroke":null},"data":{"values":[]},"mark":"point"},
{"width":113.5,"height":116.5,"view":{"stroke":null},"data":{"values":[]},"mark":"point"},
{"width":113.5,"height":116.5,"encoding":{"x":{"field":"x","type":"quantitative","scale":{"domain":[-1.44,3.04],"nice":false,"zero":false},"axis":null},"y":{"field":"y","type":"quantitative","scale":{"domain":[0.081,1.223],"nice":false,"zero":false},"axis":{"values":[0.3,0.6,0.9,1.2],"format":".1f","title":"duration (yr)","titleX":-31,"titleBaseline":"middle"}}},
"layer":[
{"data":{"name":"con"},"transform":[{"filter":"datum.p=='20'"},{"flatten":["x","y"]}],"mark":{"type":"line","interpolate":"linear-closed","strokeWidth":1.1,"clip":true},"encoding":{"order":{"value":null},"fill":{"field":"k","type":"nominal","scale":{"domain":["G","B","R","G1","B1","R1","A2","A3"],"range":["rgba(1,115,178,0.22)","rgba(2,158,115,0.22)","rgba(213,94,0,0.22)","rgba(40,150,230,0.65)","rgba(0,200,140,0.65)","rgba(245,150,60,0.65)","rgba(120,110,30,0.4)","rgba(40,30,20,0.55)"]},"legend":null},"color":{"field":"k","type":"nominal","scale":{"domain":["G","B","R","G1","B1","R1","A2","A3"],"range":["#0173b2","#029e73","#d55e00","#0173b2","#029e73","#d55e00","#c4600f","#8a4510"]},"legend":null}}},
{"data":{"name":"isl"},"transform":[{"filter":"datum.p=='20'"}],"mark":{"type":"point","shape":"circle","filled":true,"size":14,"strokeWidth":0.9,"opacity":1,"clip":true},"encoding":{"fill":{"field":"k","type":"nominal","scale":{"domain":["G","B","R","G1","B1","R1","A2","A3"],"range":["rgba(1,115,178,0.22)","rgba(2,158,115,0.22)","rgba(213,94,0,0.22)","rgba(40,150,230,0.65)","rgba(0,200,140,0.65)","rgba(245,150,60,0.65)","rgba(120,110,30,0.4)","rgba(40,30,20,0.55)"]},"legend":null},"stroke":{"field":"k","type":"nominal","scale":{"domain":["G1","B1","R1"],"range":["#0173b2","#029e73","#d55e00"]},"legend":null}}}
]},
{"width":113.5,"height":116.5,"encoding":{"x":{"field":"x","type":"quantitative","scale":{"domain":[4.566,5.32],"nice":false,"zero":false},"axis":null},"y":{"field":"y","type":"quantitative","scale":{"domain":[0.081,1.223],"nice":false,"zero":false},"axis":null}},
"layer":[
{"data":{"name":"con"},"transform":[{"filter":"datum.p=='21'"},{"flatten":["x","y"]}],"mark":{"type":"line","interpolate":"linear-closed","strokeWidth":1.1,"clip":true},"encoding":{"order":{"value":null},"fill":{"field":"k","type":"nominal","scale":{"domain":["G","B","R","G1","B1","R1","A2","A3"],"range":["rgba(1,115,178,0.22)","rgba(2,158,115,0.22)","rgba(213,94,0,0.22)","rgba(40,150,230,0.65)","rgba(0,200,140,0.65)","rgba(245,150,60,0.65)","rgba(120,110,30,0.4)","rgba(40,30,20,0.55)"]},"legend":null},"color":{"field":"k","type":"nominal","scale":{"domain":["G","B","R","G1","B1","R1","A2","A3"],"range":["#0173b2","#029e73","#d55e00","#0173b2","#029e73","#d55e00","#c4600f","#8a4510"]},"legend":null}}},
{"data":{"name":"isl"},"transform":[{"filter":"datum.p=='21'"}],"mark":{"type":"point","shape":"circle","filled":true,"size":14,"strokeWidth":0.9,"opacity":1,"clip":true},"encoding":{"fill":{"field":"k","type":"nominal","scale":{"domain":["G","B","R","G1","B1","R1","A2","A3"],"range":["rgba(1,115,178,0.22)","rgba(2,158,115,0.22)","rgba(213,94,0,0.22)","rgba(40,150,230,0.65)","rgba(0,200,140,0.65)","rgba(245,150,60,0.65)","rgba(120,110,30,0.4)","rgba(40,30,20,0.55)"]},"legend":null},"stroke":{"field":"k","type":"nominal","scale":{"domain":["G1","B1","R1"],"range":["#0173b2","#029e73","#d55e00"]},"legend":null}}}
]},
{"width":113.5,"height":116.5,"data":{"name":"kde"},"transform":[{"filter":"datum.v==2"},{"flatten":["x","d"]}],
"encoding":{"x":{"field":"x","type":"quantitative","scale":{"domain":[0.104,1.216],"nice":false,"zero":false},"axis":null},"y":{"field":"d","type":"quantitative","scale":{"domain":[0,1],"nice":false},"axis":null,"stack":null}},
"layer":[
{"transform":[{"filter":"(datum.s=='G'&&datum.x<=0.27)||(datum.s=='B'&&datum.x<=0.255)||(datum.s=='R'&&datum.x<=0.25)"}],"mark":{"type":"area","interpolate":"monotone"},"encoding":{"fill":{"field":"s","type":"nominal","scale":{"domain":["G","B","R","G1","B1","R1","A2","A3"],"range":["rgba(1,115,178,0.22)","rgba(2,158,115,0.22)","rgba(213,94,0,0.22)","rgba(40,150,230,0.65)","rgba(0,200,140,0.65)","rgba(245,150,60,0.65)","rgba(120,110,30,0.4)","rgba(40,30,20,0.55)"]},"legend":null}}},
{"mark":{"type":"line","interpolate":"monotone","strokeWidth":1.2},"encoding":{"color":{"field":"s","type":"nominal","scale":{"domain":["G","B","R","G1","B1","R1","A2","A3"],"range":["#0173b2","#029e73","#d55e00","#0173b2","#029e73","#d55e00","#c4600f","#8a4510"]},"legend":null}}}
]},
{"width":113.5,"height":116.5,"view":{"stroke":null},"data":{"values":[]},"mark":"point"},
{"width":113.5,"height":116.5,"view":{"stroke":null},"data":{"values":[]},"mark":"point"},
{"width":113.5,"height":116.5,"view":{"stroke":null},"data":{"values":[]},"mark":"point"},
{"width":113.5,"height":116.5,"encoding":{"x":{"field":"x","type":"quantitative","scale":{"domain":[-1.44,3.04],"nice":false,"zero":false},"axis":null},"y":{"field":"y","type":"quantitative","scale":{"domain":[3.11,3.831],"nice":false,"zero":false},"axis":{"values":[3.2,3.4,3.6,3.8],"format":".1f","title":"spike production (q₀ yr)","titleX":-31,"titleBaseline":"middle"}}},
"layer":[
{"data":{"name":"con"},"transform":[{"filter":"datum.p=='30'"},{"flatten":["x","y"]}],"mark":{"type":"line","interpolate":"linear-closed","strokeWidth":1.1,"clip":true},"encoding":{"order":{"value":null},"fill":{"field":"k","type":"nominal","scale":{"domain":["G","B","R","G1","B1","R1","A2","A3"],"range":["rgba(1,115,178,0.22)","rgba(2,158,115,0.22)","rgba(213,94,0,0.22)","rgba(40,150,230,0.65)","rgba(0,200,140,0.65)","rgba(245,150,60,0.65)","rgba(120,110,30,0.4)","rgba(40,30,20,0.55)"]},"legend":null},"color":{"field":"k","type":"nominal","scale":{"domain":["G","B","R","G1","B1","R1","A2","A3"],"range":["#0173b2","#029e73","#d55e00","#0173b2","#029e73","#d55e00","#c4600f","#8a4510"]},"legend":null}}},
{"data":{"name":"isl"},"transform":[{"filter":"datum.p=='30'"}],"mark":{"type":"point","shape":"circle","filled":true,"size":14,"strokeWidth":0.9,"opacity":1,"clip":true},"encoding":{"fill":{"field":"k","type":"nominal","scale":{"domain":["G","B","R","G1","B1","R1","A2","A3"],"range":["rgba(1,115,178,0.22)","rgba(2,158,115,0.22)","rgba(213,94,0,0.22)","rgba(40,150,230,0.65)","rgba(0,200,140,0.65)","rgba(245,150,60,0.65)","rgba(120,110,30,0.4)","rgba(40,30,20,0.55)"]},"legend":null},"stroke":{"field":"k","type":"nominal","scale":{"domain":["G1","B1","R1"],"range":["#0173b2","#029e73","#d55e00"]},"legend":null}}}
]},
{"width":113.5,"height":116.5,"encoding":{"x":{"field":"x","type":"quantitative","scale":{"domain":[4.566,5.32],"nice":false,"zero":false},"axis":null},"y":{"field":"y","type":"quantitative","scale":{"domain":[3.11,3.831],"nice":false,"zero":false},"axis":null}},
"layer":[
{"data":{"name":"con"},"transform":[{"filter":"datum.p=='31'"},{"flatten":["x","y"]}],"mark":{"type":"line","interpolate":"linear-closed","strokeWidth":1.1,"clip":true},"encoding":{"order":{"value":null},"fill":{"field":"k","type":"nominal","scale":{"domain":["G","B","R","G1","B1","R1","A2","A3"],"range":["rgba(1,115,178,0.22)","rgba(2,158,115,0.22)","rgba(213,94,0,0.22)","rgba(40,150,230,0.65)","rgba(0,200,140,0.65)","rgba(245,150,60,0.65)","rgba(120,110,30,0.4)","rgba(40,30,20,0.55)"]},"legend":null},"color":{"field":"k","type":"nominal","scale":{"domain":["G","B","R","G1","B1","R1","A2","A3"],"range":["#0173b2","#029e73","#d55e00","#0173b2","#029e73","#d55e00","#c4600f","#8a4510"]},"legend":null}}},
{"data":{"name":"isl"},"transform":[{"filter":"datum.p=='31'"}],"mark":{"type":"point","shape":"circle","filled":true,"size":14,"strokeWidth":0.9,"opacity":1,"clip":true},"encoding":{"fill":{"field":"k","type":"nominal","scale":{"domain":["G","B","R","G1","B1","R1","A2","A3"],"range":["rgba(1,115,178,0.22)","rgba(2,158,115,0.22)","rgba(213,94,0,0.22)","rgba(40,150,230,0.65)","rgba(0,200,140,0.65)","rgba(245,150,60,0.65)","rgba(120,110,30,0.4)","rgba(40,30,20,0.55)"]},"legend":null},"stroke":{"field":"k","type":"nominal","scale":{"domain":["G1","B1","R1"],"range":["#0173b2","#029e73","#d55e00"]},"legend":null}}}
]},
{"width":113.5,"height":116.5,"encoding":{"x":{"field":"x","type":"quantitative","scale":{"domain":[0.104,1.216],"nice":false,"zero":false},"axis":null},"y":{"field":"y","type":"quantitative","scale":{"domain":[3.11,3.831],"nice":false,"zero":false},"axis":null}},
"layer":[
{"data":{"name":"con"},"transform":[{"filter":"datum.p=='32'"},{"flatten":["x","y"]}],"mark":{"type":"line","interpolate":"linear-closed","strokeWidth":1.1,"clip":true},"encoding":{"order":{"value":null},"fill":{"field":"k","type":"nominal","scale":{"domain":["G","B","R","G1","B1","R1","A2","A3"],"range":["rgba(1,115,178,0.22)","rgba(2,158,115,0.22)","rgba(213,94,0,0.22)","rgba(40,150,230,0.65)","rgba(0,200,140,0.65)","rgba(245,150,60,0.65)","rgba(120,110,30,0.4)","rgba(40,30,20,0.55)"]},"legend":null},"color":{"field":"k","type":"nominal","scale":{"domain":["G","B","R","G1","B1","R1","A2","A3"],"range":["#0173b2","#029e73","#d55e00","#0173b2","#029e73","#d55e00","#c4600f","#8a4510"]},"legend":null}}},
{"data":{"name":"isl"},"transform":[{"filter":"datum.p=='32'"}],"mark":{"type":"point","shape":"circle","filled":true,"size":14,"strokeWidth":0.9,"opacity":1,"clip":true},"encoding":{"fill":{"field":"k","type":"nominal","scale":{"domain":["G","B","R","G1","B1","R1","A2","A3"],"range":["rgba(1,115,178,0.22)","rgba(2,158,115,0.22)","rgba(213,94,0,0.22)","rgba(40,150,230,0.65)","rgba(0,200,140,0.65)","rgba(245,150,60,0.65)","rgba(120,110,30,0.4)","rgba(40,30,20,0.55)"]},"legend":null},"stroke":{"field":"k","type":"nominal","scale":{"domain":["G1","B1","R1"],"range":["#0173b2","#029e73","#d55e00"]},"legend":null}}}
]},
{"width":113.5,"height":116.5,"data":{"name":"kde"},"transform":[{"filter":"datum.v==3"},{"flatten":["x","d"]}],
"encoding":{"x":{"field":"x","type":"quantitative","scale":{"domain":[3.11,3.84],"nice":false,"zero":false},"axis":null},"y":{"field":"d","type":"quantitative","scale":{"domain":[0,1],"nice":false},"axis":null,"stack":null}},
"layer":[
{"transform":[{"filter":"(datum.s=='G'&&datum.x>=3.34&&datum.x<=3.555)||(datum.s=='B'&&datum.x>=3.335&&datum.x<=3.535)||(datum.s=='R'&&datum.x>=3.34&&datum.x<=3.54)"}],"mark":{"type":"area","interpolate":"monotone"},"encoding":{"fill":{"field":"s","type":"nominal","scale":{"domain":["G","B","R","G1","B1","R1","A2","A3"],"range":["rgba(1,115,178,0.22)","rgba(2,158,115,0.22)","rgba(213,94,0,0.22)","rgba(40,150,230,0.65)","rgba(0,200,140,0.65)","rgba(245,150,60,0.65)","rgba(120,110,30,0.4)","rgba(40,30,20,0.55)"]},"legend":null}}},
{"mark":{"type":"line","interpolate":"monotone","strokeWidth":1.2},"encoding":{"color":{"field":"s","type":"nominal","scale":{"domain":["G","B","R","G1","B1","R1","A2","A3"],"range":["#0173b2","#029e73","#d55e00","#0173b2","#029e73","#d55e00","#c4600f","#8a4510"]},"legend":null}}}
]},
{"width":113.5,"height":116.5,"view":{"stroke":null},"data":{"values":[]},"mark":"point"},
{"width":113.5,"height":116.5,"view":{"stroke":null},"data":{"values":[]},"mark":"point"},
{"width":113.5,"height":116.5,"encoding":{"x":{"field":"x","type":"quantitative","scale":{"domain":[-1.44,3.04],"nice":false,"zero":false},"axis":null},"y":{"field":"y","type":"quantitative","scale":{"domain":[0.14,2.66],"nice":false,"zero":false},"axis":{"values":[0.8,1.6,2.4],"format":".1f","title":"ϕ (yr)","titleX":-38,"titleBaseline":"middle"}}},
"layer":[
{"data":{"name":"con"},"transform":[{"filter":"datum.p=='40'"},{"flatten":["x","y"]}],"mark":{"type":"line","interpolate":"linear-closed","strokeWidth":1.1,"clip":true},"encoding":{"order":{"value":null},"fill":{"field":"k","type":"nominal","scale":{"domain":["G","B","R","G1","B1","R1","A2","A3"],"range":["rgba(1,115,178,0.22)","rgba(2,158,115,0.22)","rgba(213,94,0,0.22)","rgba(40,150,230,0.65)","rgba(0,200,140,0.65)","rgba(245,150,60,0.65)","rgba(120,110,30,0.4)","rgba(40,30,20,0.55)"]},"legend":null},"color":{"field":"k","type":"nominal","scale":{"domain":["G","B","R","G1","B1","R1","A2","A3"],"range":["#0173b2","#029e73","#d55e00","#0173b2","#029e73","#d55e00","#c4600f","#8a4510"]},"legend":null}}},
{"data":{"name":"isl"},"transform":[{"filter":"datum.p=='40'"}],"mark":{"type":"point","shape":"circle","filled":true,"size":14,"strokeWidth":0.9,"opacity":1,"clip":true},"encoding":{"fill":{"field":"k","type":"nominal","scale":{"domain":["G","B","R","G1","B1","R1","A2","A3"],"range":["rgba(1,115,178,0.22)","rgba(2,158,115,0.22)","rgba(213,94,0,0.22)","rgba(40,150,230,0.65)","rgba(0,200,140,0.65)","rgba(245,150,60,0.65)","rgba(120,110,30,0.4)","rgba(40,30,20,0.55)"]},"legend":null},"stroke":{"field":"k","type":"nominal","scale":{"domain":["G1","B1","R1"],"range":["#0173b2","#029e73","#d55e00"]},"legend":null}}}
]},
{"width":113.5,"height":116.5,"encoding":{"x":{"field":"x","type":"quantitative","scale":{"domain":[4.566,5.32],"nice":false,"zero":false},"axis":null},"y":{"field":"y","type":"quantitative","scale":{"domain":[0.14,2.66],"nice":false,"zero":false},"axis":null}},
"layer":[
{"data":{"name":"con"},"transform":[{"filter":"datum.p=='41'"},{"flatten":["x","y"]}],"mark":{"type":"line","interpolate":"linear-closed","strokeWidth":1.1,"clip":true},"encoding":{"order":{"value":null},"fill":{"field":"k","type":"nominal","scale":{"domain":["G","B","R","G1","B1","R1","A2","A3"],"range":["rgba(1,115,178,0.22)","rgba(2,158,115,0.22)","rgba(213,94,0,0.22)","rgba(40,150,230,0.65)","rgba(0,200,140,0.65)","rgba(245,150,60,0.65)","rgba(120,110,30,0.4)","rgba(40,30,20,0.55)"]},"legend":null},"color":{"field":"k","type":"nominal","scale":{"domain":["G","B","R","G1","B1","R1","A2","A3"],"range":["#0173b2","#029e73","#d55e00","#0173b2","#029e73","#d55e00","#c4600f","#8a4510"]},"legend":null}}},
{"data":{"name":"isl"},"transform":[{"filter":"datum.p=='41'"}],"mark":{"type":"point","shape":"circle","filled":true,"size":14,"strokeWidth":0.9,"opacity":1,"clip":true},"encoding":{"fill":{"field":"k","type":"nominal","scale":{"domain":["G","B","R","G1","B1","R1","A2","A3"],"range":["rgba(1,115,178,0.22)","rgba(2,158,115,0.22)","rgba(213,94,0,0.22)","rgba(40,150,230,0.65)","rgba(0,200,140,0.65)","rgba(245,150,60,0.65)","rgba(120,110,30,0.4)","rgba(40,30,20,0.55)"]},"legend":null},"stroke":{"field":"k","type":"nominal","scale":{"domain":["G1","B1","R1"],"range":["#0173b2","#029e73","#d55e00"]},"legend":null}}}
]},
{"width":113.5,"height":116.5,"encoding":{"x":{"field":"x","type":"quantitative","scale":{"domain":[0.104,1.216],"nice":false,"zero":false},"axis":null},"y":{"field":"y","type":"quantitative","scale":{"domain":[0.14,2.66],"nice":false,"zero":false},"axis":null}},
"layer":[
{"data":{"name":"con"},"transform":[{"filter":"datum.p=='42'"},{"flatten":["x","y"]}],"mark":{"type":"line","interpolate":"linear-closed","strokeWidth":1.1,"clip":true},"encoding":{"order":{"value":null},"fill":{"field":"k","type":"nominal","scale":{"domain":["G","B","R","G1","B1","R1","A2","A3"],"range":["rgba(1,115,178,0.22)","rgba(2,158,115,0.22)","rgba(213,94,0,0.22)","rgba(40,150,230,0.65)","rgba(0,200,140,0.65)","rgba(245,150,60,0.65)","rgba(120,110,30,0.4)","rgba(40,30,20,0.55)"]},"legend":null},"color":{"field":"k","type":"nominal","scale":{"domain":["G","B","R","G1","B1","R1","A2","A3"],"range":["#0173b2","#029e73","#d55e00","#0173b2","#029e73","#d55e00","#c4600f","#8a4510"]},"legend":null}}},
{"data":{"name":"isl"},"transform":[{"filter":"datum.p=='42'"}],"mark":{"type":"point","shape":"circle","filled":true,"size":14,"strokeWidth":0.9,"opacity":1,"clip":true},"encoding":{"fill":{"field":"k","type":"nominal","scale":{"domain":["G","B","R","G1","B1","R1","A2","A3"],"range":["rgba(1,115,178,0.22)","rgba(2,158,115,0.22)","rgba(213,94,0,0.22)","rgba(40,150,230,0.65)","rgba(0,200,140,0.65)","rgba(245,150,60,0.65)","rgba(120,110,30,0.4)","rgba(40,30,20,0.55)"]},"legend":null},"stroke":{"field":"k","type":"nominal","scale":{"domain":["G1","B1","R1"],"range":["#0173b2","#029e73","#d55e00"]},"legend":null}}}
]},
{"width":113.5,"height":116.5,"encoding":{"x":{"field":"x","type":"quantitative","scale":{"domain":[3.11,3.84],"nice":false,"zero":false},"axis":null},"y":{"field":"y","type":"quantitative","scale":{"domain":[0.14,2.66],"nice":false,"zero":false},"axis":null}},
"layer":[
{"data":{"name":"con"},"transform":[{"filter":"datum.p=='43'"},{"flatten":["x","y"]}],"mark":{"type":"line","interpolate":"linear-closed","strokeWidth":1.1,"clip":true},"encoding":{"order":{"value":null},"fill":{"field":"k","type":"nominal","scale":{"domain":["G","B","R","G1","B1","R1","A2","A3"],"range":["rgba(1,115,178,0.22)","rgba(2,158,115,0.22)","rgba(213,94,0,0.22)","rgba(40,150,230,0.65)","rgba(0,200,140,0.65)","rgba(245,150,60,0.65)","rgba(120,110,30,0.4)","rgba(40,30,20,0.55)"]},"legend":null},"color":{"field":"k","type":"nominal","scale":{"domain":["G","B","R","G1","B1","R1","A2","A3"],"range":["#0173b2","#029e73","#d55e00","#0173b2","#029e73","#d55e00","#c4600f","#8a4510"]},"legend":null}}},
{"data":{"name":"isl"},"transform":[{"filter":"datum.p=='43'"}],"mark":{"type":"point","shape":"circle","filled":true,"size":14,"strokeWidth":0.9,"opacity":1,"clip":true},"encoding":{"fill":{"field":"k","type":"nominal","scale":{"domain":["G","B","R","G1","B1","R1","A2","A3"],"range":["rgba(1,115,178,0.22)","rgba(2,158,115,0.22)","rgba(213,94,0,0.22)","rgba(40,150,230,0.65)","rgba(0,200,140,0.65)","rgba(245,150,60,0.65)","rgba(120,110,30,0.4)","rgba(40,30,20,0.55)"]},"legend":null},"stroke":{"field":"k","type":"nominal","scale":{"domain":["G1","B1","R1"],"range":["#0173b2","#029e73","#d55e00"]},"legend":null}}}
]},
{"width":113.5,"height":116.5,"data":{"name":"kde"},"transform":[{"filter":"datum.v==4"},{"flatten":["x","d"]}],
"encoding":{"x":{"field":"x","type":"quantitative","scale":{"domain":[0.105,2.647],"nice":false,"zero":false},"axis":null},"y":{"field":"d","type":"quantitative","scale":{"domain":[0,1],"nice":false},"axis":null,"stack":null}},
"layer":[
{"transform":[{"filter":"(datum.s=='G'&&datum.x>=1.26&&datum.x<=1.91)||(datum.s=='B'&&datum.x>=1.265&&datum.x<=1.9)||(datum.s=='R'&&datum.x>=1.255&&datum.x<=1.9)"}],"mark":{"type":"area","interpolate":"monotone"},"encoding":{"fill":{"field":"s","type":"nominal","scale":{"domain":["G","B","R","G1","B1","R1","A2","A3"],"range":["rgba(1,115,178,0.22)","rgba(2,158,115,0.22)","rgba(213,94,0,0.22)","rgba(40,150,230,0.65)","rgba(0,200,140,0.65)","rgba(245,150,60,0.65)","rgba(120,110,30,0.4)","rgba(40,30,20,0.55)"]},"legend":null}}},
{"mark":{"type":"line","interpolate":"monotone","strokeWidth":1.2},"encoding":{"color":{"field":"s","type":"nominal","scale":{"domain":["G","B","R","G1","B1","R1","A2","A3"],"range":["#0173b2","#029e73","#d55e00","#0173b2","#029e73","#d55e00","#c4600f","#8a4510"]},"legend":null}}}
]},
{"width":113.5,"height":116.5,"view":{"stroke":null},"data":{"values":[]},"mark":"point"},
{"width":113.5,"height":116.5,"encoding":{"x":{"field":"x","type":"quantitative","scale":{"domain":[-1.44,3.04],"nice":false,"zero":false},"axis":{"values":[0,1.5,3.0],"format":".1f","title":"gradient (atoms/cm²/year²) [1e−3]","titleY":24,"titleBaseline":"middle"}},"y":{"field":"y","type":"quantitative","scale":{"domain":[0.049,0.253],"nice":false,"zero":false},"axis":{"values":[0.06,0.12,0.18,0.24],"format":".2f","title":"solar amplitude (atoms/cm²/s)","titleX":-38,"titleBaseline":"middle"}}},
"layer":[
{"data":{"name":"con"},"transform":[{"filter":"datum.p=='50'"},{"flatten":["x","y"]}],"mark":{"type":"line","interpolate":"linear-closed","strokeWidth":1.1,"clip":true},"encoding":{"order":{"value":null},"fill":{"field":"k","type":"nominal","scale":{"domain":["G","B","R","G1","B1","R1","A2","A3"],"range":["rgba(1,115,178,0.22)","rgba(2,158,115,0.22)","rgba(213,94,0,0.22)","rgba(40,150,230,0.65)","rgba(0,200,140,0.65)","rgba(245,150,60,0.65)","rgba(120,110,30,0.4)","rgba(40,30,20,0.55)"]},"legend":null},"color":{"field":"k","type":"nominal","scale":{"domain":["G","B","R","G1","B1","R1","A2","A3"],"range":["#0173b2","#029e73","#d55e00","#0173b2","#029e73","#d55e00","#c4600f","#8a4510"]},"legend":null}}},
{"data":{"name":"isl"},"transform":[{"filter":"datum.p=='50'"}],"mark":{"type":"point","shape":"circle","filled":true,"size":14,"strokeWidth":0.9,"opacity":1,"clip":true},"encoding":{"fill":{"field":"k","type":"nominal","scale":{"domain":["G","B","R","G1","B1","R1","A2","A3"],"range":["rgba(1,115,178,0.22)","rgba(2,158,115,0.22)","rgba(213,94,0,0.22)","rgba(40,150,230,0.65)","rgba(0,200,140,0.65)","rgba(245,150,60,0.65)","rgba(120,110,30,0.4)","rgba(40,30,20,0.55)"]},"legend":null},"stroke":{"field":"k","type":"nominal","scale":{"domain":["G1","B1","R1"],"range":["#0173b2","#029e73","#d55e00"]},"legend":null}}}
]},
{"width":113.5,"height":116.5,"encoding":{"x":{"field":"x","type":"quantitative","scale":{"domain":[4.566,5.32],"nice":false,"zero":false},"axis":{"values":[4.6,4.8,5.0,5.2],"format":".1f","title":"start date (yr - 770CE)","titleY":24,"titleBaseline":"middle"}},"y":{"field":"y","type":"quantitative","scale":{"domain":[0.049,0.253],"nice":false,"zero":false},"axis":null}},
"layer":[
{"data":{"name":"con"},"transform":[{"filter":"datum.p=='51'"},{"flatten":["x","y"]}],"mark":{"type":"line","interpolate":"linear-closed","strokeWidth":1.1,"clip":true},"encoding":{"order":{"value":null},"fill":{"field":"k","type":"nominal","scale":{"domain":["G","B","R","G1","B1","R1","A2","A3"],"range":["rgba(1,115,178,0.22)","rgba(2,158,115,0.22)","rgba(213,94,0,0.22)","rgba(40,150,230,0.65)","rgba(0,200,140,0.65)","rgba(245,150,60,0.65)","rgba(120,110,30,0.4)","rgba(40,30,20,0.55)"]},"legend":null},"color":{"field":"k","type":"nominal","scale":{"domain":["G","B","R","G1","B1","R1","A2","A3"],"range":["#0173b2","#029e73","#d55e00","#0173b2","#029e73","#d55e00","#c4600f","#8a4510"]},"legend":null}}},
{"data":{"name":"isl"},"transform":[{"filter":"datum.p=='51'"}],"mark":{"type":"point","shape":"circle","filled":true,"size":14,"strokeWidth":0.9,"opacity":1,"clip":true},"encoding":{"fill":{"field":"k","type":"nominal","scale":{"domain":["G","B","R","G1","B1","R1","A2","A3"],"range":["rgba(1,115,178,0.22)","rgba(2,158,115,0.22)","rgba(213,94,0,0.22)","rgba(40,150,230,0.65)","rgba(0,200,140,0.65)","rgba(245,150,60,0.65)","rgba(120,110,30,0.4)","rgba(40,30,20,0.55)"]},"legend":null},"stroke":{"field":"k","type":"nominal","scale":{"domain":["G1","B1","R1"],"range":["#0173b2","#029e73","#d55e00"]},"legend":null}}}
]},
{"width":113.5,"height":116.5,"encoding":{"x":{"field":"x","type":"quantitative","scale":{"domain":[0.104,1.216],"nice":false,"zero":false},"axis":{"values":[0.3,0.6,0.9,1.2],"format":".1f","title":"duration (yr)","titleY":24,"titleBaseline":"middle"}},"y":{"field":"y","type":"quantitative","scale":{"domain":[0.049,0.253],"nice":false,"zero":false},"axis":null}},
"layer":[
{"data":{"name":"con"},"transform":[{"filter":"datum.p=='52'"},{"flatten":["x","y"]}],"mark":{"type":"line","interpolate":"linear-closed","strokeWidth":1.1,"clip":true},"encoding":{"order":{"value":null},"fill":{"field":"k","type":"nominal","scale":{"domain":["G","B","R","G1","B1","R1","A2","A3"],"range":["rgba(1,115,178,0.22)","rgba(2,158,115,0.22)","rgba(213,94,0,0.22)","rgba(40,150,230,0.65)","rgba(0,200,140,0.65)","rgba(245,150,60,0.65)","rgba(120,110,30,0.4)","rgba(40,30,20,0.55)"]},"legend":null},"color":{"field":"k","type":"nominal","scale":{"domain":["G","B","R","G1","B1","R1","A2","A3"],"range":["#0173b2","#029e73","#d55e00","#0173b2","#029e73","#d55e00","#c4600f","#8a4510"]},"legend":null}}},
{"data":{"name":"isl"},"transform":[{"filter":"datum.p=='52'"}],"mark":{"type":"point","shape":"circle","filled":true,"size":14,"strokeWidth":0.9,"opacity":1,"clip":true},"encoding":{"fill":{"field":"k","type":"nominal","scale":{"domain":["G","B","R","G1","B1","R1","A2","A3"],"range":["rgba(1,115,178,0.22)","rgba(2,158,115,0.22)","rgba(213,94,0,0.22)","rgba(40,150,230,0.65)","rgba(0,200,140,0.65)","rgba(245,150,60,0.65)","rgba(120,110,30,0.4)","rgba(40,30,20,0.55)"]},"legend":null},"stroke":{"field":"k","type":"nominal","scale":{"domain":["G1","B1","R1"],"range":["#0173b2","#029e73","#d55e00"]},"legend":null}}}
]},
{"width":113.5,"height":116.5,"encoding":{"x":{"field":"x","type":"quantitative","scale":{"domain":[3.11,3.84],"nice":false,"zero":false},"axis":{"values":[3.2,3.4,3.6,3.8],"format":".1f","title":"spike production (q₀ yr)","titleY":24,"titleBaseline":"middle"}},"y":{"field":"y","type":"quantitative","scale":{"domain":[0.049,0.253],"nice":false,"zero":false},"axis":null}},
"layer":[
{"data":{"name":"con"},"transform":[{"filter":"datum.p=='53'"},{"flatten":["x","y"]}],"mark":{"type":"line","interpolate":"linear-closed","strokeWidth":1.1,"clip":true},"encoding":{"order":{"value":null},"fill":{"field":"k","type":"nominal","scale":{"domain":["G","B","R","G1","B1","R1","A2","A3"],"range":["rgba(1,115,178,0.22)","rgba(2,158,115,0.22)","rgba(213,94,0,0.22)","rgba(40,150,230,0.65)","rgba(0,200,140,0.65)","rgba(245,150,60,0.65)","rgba(120,110,30,0.4)","rgba(40,30,20,0.55)"]},"legend":null},"color":{"field":"k","type":"nominal","scale":{"domain":["G","B","R","G1","B1","R1","A2","A3"],"range":["#0173b2","#029e73","#d55e00","#0173b2","#029e73","#d55e00","#c4600f","#8a4510"]},"legend":null}}},
{"data":{"name":"isl"},"transform":[{"filter":"datum.p=='53'"}],"mark":{"type":"point","shape":"circle","filled":true,"size":14,"strokeWidth":0.9,"opacity":1,"clip":true},"encoding":{"fill":{"field":"k","type":"nominal","scale":{"domain":["G","B","R","G1","B1","R1","A2","A3"],"range":["rgba(1,115,178,0.22)","rgba(2,158,115,0.22)","rgba(213,94,0,0.22)","rgba(40,150,230,0.65)","rgba(0,200,140,0.65)","rgba(245,150,60,0.65)","rgba(120,110,30,0.4)","rgba(40,30,20,0.55)"]},"legend":null},"stroke":{"field":"k","type":"nominal","scale":{"domain":["G1","B1","R1"],"range":["#0173b2","#029e73","#d55e00"]},"legend":null}}}
]},
{"width":113.5,"height":116.5,"encoding":{"x":{"field":"x","type":"quantitative","scale":{"domain":[0.105,2.647],"nice":false,"zero":false},"axis":{"values":[0.8,1.6,2.4],"format":".1f","title":"ϕ (yr)","titleY":24,"titleBaseline":"middle"}},"y":{"field":"y","type":"quantitative","scale":{"domain":[0.049,0.253],"nice":false,"zero":false},"axis":null}},
"layer":[
{"data":{"name":"con"},"transform":[{"filter":"datum.p=='54'"},{"flatten":["x","y"]}],"mark":{"type":"line","interpolate":"linear-closed","strokeWidth":1.1,"clip":true},"encoding":{"order":{"value":null},"fill":{"field":"k","type":"nominal","scale":{"domain":["G","B","R","G1","B1","R1","A2","A3"],"range":["rgba(1,115,178,0.22)","rgba(2,158,115,0.22)","rgba(213,94,0,0.22)","rgba(40,150,230,0.65)","rgba(0,200,140,0.65)","rgba(245,150,60,0.65)","rgba(120,110,30,0.4)","rgba(40,30,20,0.55)"]},"legend":null},"color":{"field":"k","type":"nominal","scale":{"domain":["G","B","R","G1","B1","R1","A2","A3"],"range":["#0173b2","#029e73","#d55e00","#0173b2","#029e73","#d55e00","#c4600f","#8a4510"]},"legend":null}}},
{"data":{"name":"isl"},"transform":[{"filter":"datum.p=='54'"}],"mark":{"type":"point","shape":"circle","filled":true,"size":14,"strokeWidth":0.9,"opacity":1,"clip":true},"encoding":{"fill":{"field":"k","type":"nominal","scale":{"domain":["G","B","R","G1","B1","R1","A2","A3"],"range":["rgba(1,115,178,0.22)","rgba(2,158,115,0.22)","rgba(213,94,0,0.22)","rgba(40,150,230,0.65)","rgba(0,200,140,0.65)","rgba(245,150,60,0.65)","rgba(120,110,30,0.4)","rgba(40,30,20,0.55)"]},"legend":null},"stroke":{"field":"k","type":"nominal","scale":{"domain":["G1","B1","R1"],"range":["#0173b2","#029e73","#d55e00"]},"legend":null}}}
]},
{"width":113.5,"height":116.5,"data":{"name":"kde"},"transform":[{"filter":"datum.v==5"},{"flatten":["x","d"]}],
"encoding":{"x":{"field":"x","type":"quantitative","scale":{"domain":[0.045,0.252],"nice":false,"zero":false},"axis":{"values":[0.06,0.12,0.18,0.24],"format":".2f","title":"solar amplitude (atoms/cm²/s)","titleY":24,"titleBaseline":"middle"}},"y":{"field":"d","type":"quantitative","scale":{"domain":[0,1],"nice":false},"axis":null,"stack":null}},
"layer":[
{"transform":[{"filter":"(datum.s=='G'&&datum.x>=0.1115&&datum.x<=0.1659)||(datum.s=='B'&&datum.x>=0.1043&&datum.x<=0.1599)||(datum.s=='R'&&datum.x>=0.1157&&datum.x<=0.169)"}],"mark":{"type":"area","interpolate":"monotone"},"encoding":{"fill":{"field":"s","type":"nominal","scale":{"domain":["G","B","R","G1","B1","R1","A2","A3"],"range":["rgba(1,115,178,0.22)","rgba(2,158,115,0.22)","rgba(213,94,0,0.22)","rgba(40,150,230,0.65)","rgba(0,200,140,0.65)","rgba(245,150,60,0.65)","rgba(120,110,30,0.4)","rgba(40,30,20,0.55)"]},"legend":null}}},
{"mark":{"type":"line","interpolate":"monotone","strokeWidth":1.2},"encoding":{"color":{"field":"s","type":"nominal","scale":{"domain":["G","B","R","G1","B1","R1","A2","A3"],"range":["#0173b2","#029e73","#d55e00","#0173b2","#029e73","#d55e00","#c4600f","#8a4510"]},"legend":null}}}
]}
]
}
